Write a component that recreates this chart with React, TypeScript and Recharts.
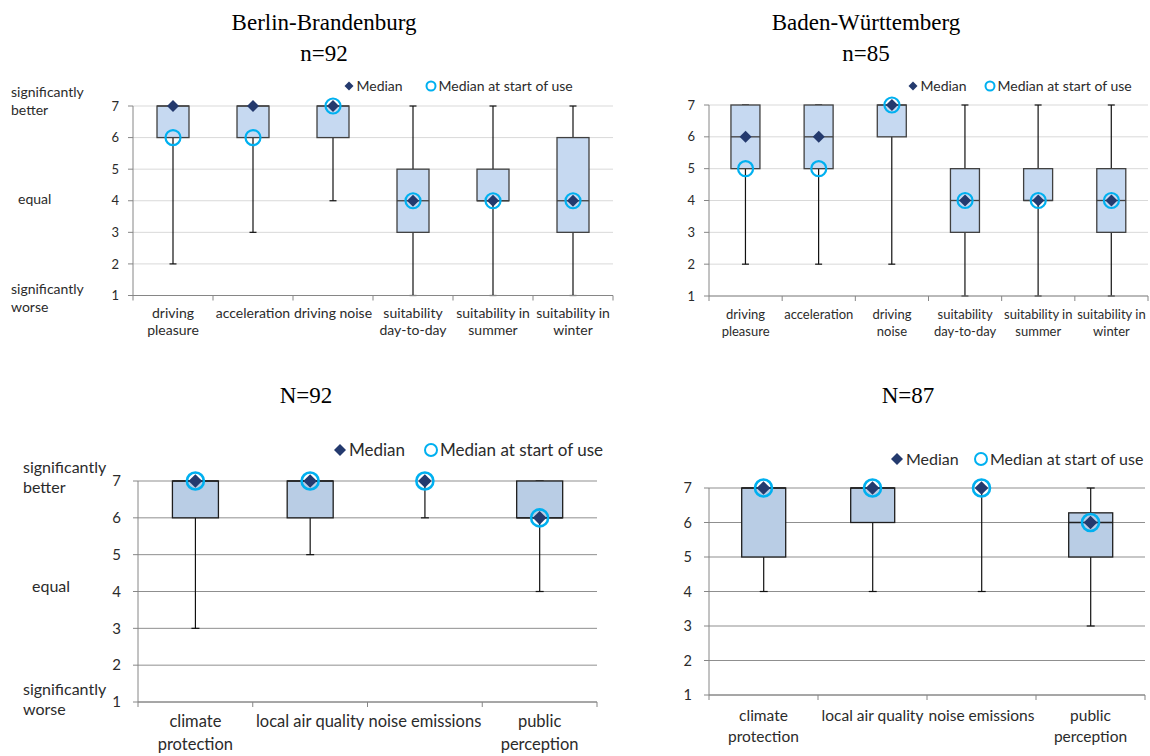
import { ComposedChart, Bar, Line, XAxis, YAxis, CartesianGrid } from "recharts";

const SANS = "Lato, 'Open Sans', sans-serif";
const SERIF = "'Liberation Serif', 'Times New Roman', serif";
const INK = "#2b2b2b";
const AXIS = "#868686";
const MEDIAN = "#243a6e";
const START = "#00b0f0";

const Y_TICKS = [1, 2, 3, 4, 5, 6, 7];

// Berlin-Brandenburg, n=92
const bbLabels = [["driving", "pleasure"], ["acceleration"], ["driving noise"], ["suitability", "day-to-day"], ["suitability in", "summer"], ["suitability in", "winter"]];
const bbMin = [2, 3, 4, 1, 1, 1];
const bbQ1 = [6, 6, 6, 3, 4, 3];
const bbQ3 = [7, 7, 7, 5, 5, 6];
const bbMax = [7, 7, 7, 7, 7, 7];
const bbMedian = [7, 7, 7, 4, 4, 4];
const bbStart = [6, 6, 7, 4, 4, 4];

// Baden-Württemberg, n=85
const bwLabels = [["driving", "pleasure"], ["acceleration"], ["driving", "noise"], ["suitability", "day-to-day"], ["suitability in", "summer"], ["suitability in", "winter"]];
const bwMin = [2, 2, 2, 1, 1, 1];
const bwQ1 = [5, 5, 6, 3, 4, 3];
const bwQ3 = [7, 7, 7, 5, 5, 5];
const bwMax = [7, 7, 7, 7, 7, 7];
const bwMedian = [6, 6, 7, 4, 4, 4];
const bwStart = [5, 5, 7, 4, 4, 4];

// environmental aspects, N=92 and N=87
const envLabels = [["climate", "protection"], ["local air quality"], ["noise emissions"], ["public", "perception"]];
const e92Min = [3, 5, 6, 4];
const e92Q1 = [6, 6, 7, 6];
const e92Q3 = [7, 7, 7, 7];
const e92Max = [7, 7, 7, 7];
const e92Median = [7, 7, 7, 6];
const e92Start = [7, 7, 7, 6];

const e87Min = [4, 4, 4, 3];
const e87Q1 = [5, 6, 7, 5];
const e87Q3 = [7, 7, 7, 6.28];
const e87Max = [7, 7, 7, 7];
const e87Median = [7, 7, 7, 6];
const e87Start = [7, 7, 7, 6];

interface Row {
  name: string;
  lines: string[];
  whisker: [number, number];
  q1: number;
  q3: number;
  median: number;
  start: number;
}

function rows(labels: string[][], min: number[], q1: number[], q3: number[], max: number[], median: number[], start: number[]): Row[] {
  return labels.map((l, i) => ({
    name: l.join(" "),
    lines: l,
    whisker: [min[i], max[i]],
    q1: q1[i],
    q3: q3[i],
    median: median[i],
    start: start[i],
  }));
}

interface Look {
  tick: number;
  label: number;
  tickGap: number;
  grid: string;
  fill: string;
  edge: string;
  r: number;
  ring: number;
  d: number;
  cap: number;
  firstDy: number;
  lineH: number;
}

const TOP: Look = {
  tick: 13, label: 14, tickGap: 14, grid: "#d9d9d9", fill: "#c6d9f1", edge: "#404040",
  r: 7.5, ring: 2.2, d: 6, cap: 3.5, firstDy: 22.5, lineH: 17,
};
// the right-hand panel packs its labels tighter
const TOP_R: Look = { ...TOP, label: 13 };
const BOTTOM: Look = {
  tick: 15, label: 16.5, tickGap: 17, grid: "#8f8f8f", fill: "#b9cde5", edge: "#1e1e1e",
  r: 8.5, ring: 2.6, d: 6.8, cap: 4, firstDy: 25, lineH: 23,
};
const BOTTOM_R: Look = { ...BOTTOM, tick: 14.5, label: 15.5, firstDy: 26, lineH: 21 };

/** Whisker from min to max inside the pixel box Recharts gives for [min, max], box from q1 to q3. */
function BoxWhisker(props: any) {
  const { x, y, width, height, payload, look } = props;
  if (x == null || y == null || width == null || height == null || !payload) return null;
  const [lo, hi] = payload.whisker as [number, number];
  const top = Math.min(y, y + height);
  const h = Math.abs(height);
  const yFor = (v: number) => (hi === lo ? top : top + ((hi - v) / (hi - lo)) * h);
  const cx = x + width / 2;
  const yq3 = yFor(payload.q3);
  const yq1 = yFor(payload.q1);
  const hasBox = payload.q3 > payload.q1;
  const ym = yFor(payload.median);
  return (
    <g>
      <line x1={cx} x2={cx} y1={top} y2={top + h} stroke="#111" strokeWidth={1.2} />
      <line x1={cx - look.cap} x2={cx + look.cap} y1={top} y2={top} stroke="#111" strokeWidth={1.2} />
      <line x1={cx - look.cap} x2={cx + look.cap} y1={top + h} y2={top + h} stroke="#111" strokeWidth={1.2} />
      {hasBox && (
        <rect x={x} y={yq3} width={width} height={yq1 - yq3} fill={look.fill} stroke={look.edge} strokeWidth={1.3} />
      )}
      {hasBox && payload.median >= payload.q1 && payload.median <= payload.q3 && (
        <line x1={x} x2={x + width} y1={ym} y2={ym} stroke={look.edge} strokeWidth={1.3} />
      )}
    </g>
  );
}

function StartRing(props: any) {
  const { cx, cy, look } = props;
  if (cx == null || cy == null) return null;
  return <circle cx={cx} cy={cy} r={look.r} fill="none" stroke={START} strokeWidth={look.ring} />;
}

function MedianDiamond(props: any) {
  const { cx, cy, look } = props;
  if (cx == null || cy == null) return null;
  const d = look.d;
  return <polygon points={`${cx},${cy - d} ${cx + d},${cy} ${cx},${cy + d} ${cx - d},${cy}`} fill={MEDIAN} />;
}

function CategoryTick(props: any) {
  const { x, y, payload, index, data, band, look } = props;
  const i = index ?? payload?.index ?? 0;
  const row: Row | undefined = data[i];
  if (!row) return null;
  const last = i === data.length - 1;
  return (
    <g>
      <line x1={x - band / 2} x2={x - band / 2} y1={y} y2={y + 5} stroke={AXIS} />
      {last && <line x1={x + band / 2} x2={x + band / 2} y1={y} y2={y + 5} stroke={AXIS} />}
      <text textAnchor="middle" fill={INK} fontSize={look.label} fontFamily={SANS}>
        {row.lines.map((s, k) => (
          <tspan key={k} x={x} y={y + look.firstDy + k * look.lineH}>
            {s}
          </tspan>
        ))}
      </text>
    </g>
  );
}

function Panel({ data, left, right, top, bottom, look }: { data: Row[]; left: number; right: number; top: number; bottom: number; look: Look }) {
  const YW = 60;
  const MT = 14;
  const MR = 8;
  const XH = 60;
  const divLeft = left - YW;
  const divTop = top - MT;
  const width = right - divLeft + MR;
  const height = bottom - divTop + XH;
  const band = (right - left) / data.length;
  return (
    <div style={{ position: "absolute", left: divLeft, top: divTop }}>
      <ComposedChart width={width} height={height} data={data} margin={{ top: MT, right: MR, bottom: 0, left: 0 }} barCategoryGap="30%">
        <CartesianGrid vertical={false} stroke={look.grid} />
        <XAxis
          dataKey="name"
          type="category"
          height={XH}
          interval={0}
          tickSize={0}
          tickMargin={0}
          tickLine={false}
          axisLine={{ stroke: AXIS }}
          tick={(p: any) => <CategoryTick {...p} data={data} band={band} look={look} />}
        />
        <YAxis
          type="number"
          domain={[1, 7]}
          ticks={Y_TICKS}
          interval={0}
          width={YW}
          tickSize={5}
          tickMargin={look.tickGap - 5}
          axisLine={{ stroke: AXIS }}
          tickLine={{ stroke: AXIS }}
          tick={{ fill: INK, fontSize: look.tick, fontFamily: SANS }}
        />
        <Bar dataKey="whisker" isAnimationActive={false} shape={(p: any) => <BoxWhisker {...p} look={look} />} />
        <Line dataKey="start" stroke="none" isAnimationActive={false} activeDot={false} dot={(p: any) => <StartRing key={`s${p.index}`} {...p} look={look} />} />
        <Line dataKey="median" stroke="none" isAnimationActive={false} activeDot={false} dot={(p: any) => <MedianDiamond key={`m${p.index}`} {...p} look={look} />} />
      </ComposedChart>
    </div>
  );
}

function LegendRow({ dx, cxr, y, size, r, d }: { dx: number; cxr: number; y: number; size: number; r: number; d: number }) {
  return (
    <g fontFamily={SANS} fontSize={size} fill={INK}>
      <polygon points={`${dx},${y - d} ${dx + d},${y} ${dx},${y + d} ${dx - d},${y}`} fill={MEDIAN} />
      <text x={dx + d + 3} y={y + size * 0.35}>Median</text>
      <circle cx={cxr} cy={y} r={r} fill="none" stroke={START} strokeWidth={2} />
      <text x={cxr + r + 3} y={y + size * 0.35}>Median at start of use</text>
    </g>
  );
}

function SideLabels({ x, xEq, b1, b2, eq, w1, w2, size }: { x: number; xEq: number; b1: number; b2: number; eq: number; w1: number; w2: number; size: number }) {
  return (
    <g fontFamily={SANS} fontSize={size} fill={INK}>
      <text x={x} y={b1}>significantly</text>
      <text x={x} y={b2}>better</text>
      <text x={xEq} y={eq}>equal</text>
      <text x={x} y={w1}>significantly</text>
      <text x={x} y={w2}>worse</text>
    </g>
  );
}

export default function App() {
  const bb = rows(bbLabels, bbMin, bbQ1, bbQ3, bbMax, bbMedian, bbStart);
  const bw = rows(bwLabels, bwMin, bwQ1, bwQ3, bwMax, bwMedian, bwStart);
  const e92 = rows(envLabels, e92Min, e92Q1, e92Q3, e92Max, e92Median, e92Start);
  const e87 = rows(envLabels, e87Min, e87Q1, e87Q3, e87Max, e87Median, e87Start);

  return (
    <div style={{ position: "absolute", left: 0, top: 0, width: 1150, height: 756, background: "#fff", overflow: "hidden" }}>
      <Panel data={bb} left={133} right={613} top={105.5} bottom={295} look={TOP} />
      <Panel data={bw} left={709} right={1148} top={105} bottom={296} look={TOP_R} />
      <Panel data={e92} left={138} right={597} top={481} bottom={702} look={BOTTOM} />
      <Panel data={e87} left={709} right={1145} top={488} bottom={695} look={BOTTOM_R} />

      <svg width={1150} height={756} style={{ position: "absolute", left: 0, top: 0, pointerEvents: "none" }}>
        <g fontFamily={SERIF} fontSize={23} fill="#000" textAnchor="middle">
          <text x={324} y={30}>Berlin-Brandenburg</text>
          <text x={324} y={61}>n=92</text>
          <text x={866} y={30}>Baden-Württemberg</text>
          <text x={866} y={61}>n=85</text>
          <text x={306} y={403}>N=92</text>
          <text x={908} y={403}>N=87</text>
        </g>
        <LegendRow dx={349} cxr={431} y={86} size={14} r={4.5} d={4.5} />
        <LegendRow dx={913} cxr={990} y={86} size={14} r={4.5} d={4.5} />
        <LegendRow dx={340} cxr={431} y={450} size={17} r={6} d={6} />
        <LegendRow dx={897} cxr={981} y={459} size={16} r={6} d={6} />
        <SideLabels x={11} xEq={18} b1={97} b2={115} eq={204} w1={294} w2={312} size={14} />
        <SideLabels x={23} xEq={32} b1={473} b2={493} eq={592} w1={695} w2={715} size={16} />
      </svg>
    </div>
  );
}
